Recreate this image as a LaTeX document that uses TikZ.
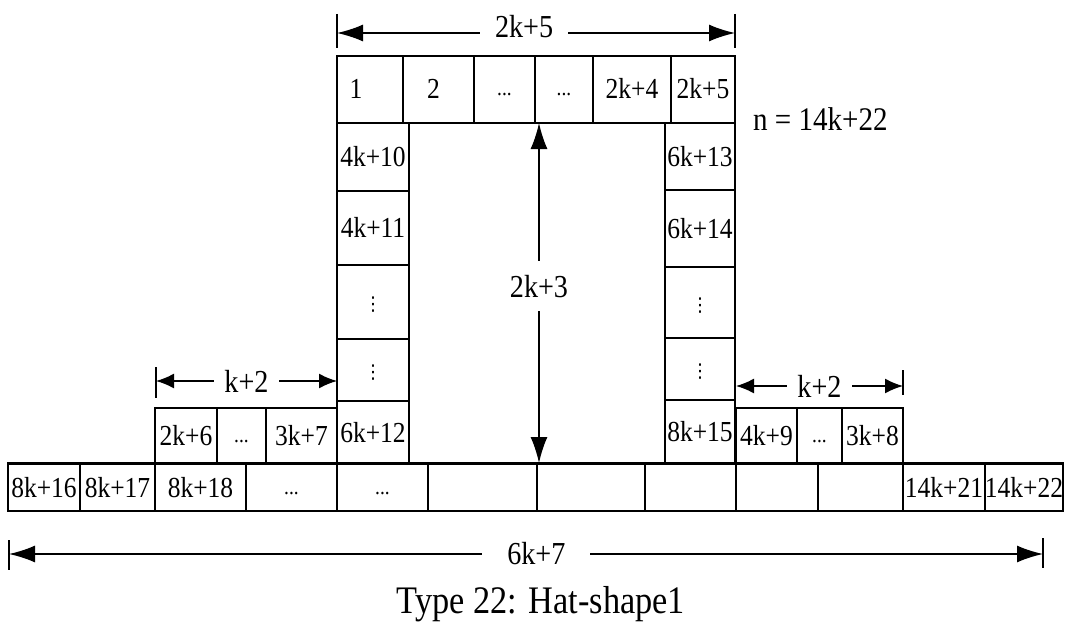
\documentclass[tikz,border=0pt]{standalone}
\usepackage{fontspec}
\setmainfont{Liberation Serif}
\newfontfamily\condfont[FakeStretch=0.88]{Liberation Serif}
\newfontfamily\symfont{DejaVu Sans}
\usetikzlibrary{arrows.meta}
\newcommand{\hcell}[6]{\node[cell, minimum width={#4-#2}, minimum height={#5-#3}] (#1) at ({(#2+#4)/2},{(#3+#5)/2}) {#6};}
\newcommand{\hdots}{{\fontsize{22}{22}\selectfont\raisebox{3pt}{...}}}
\newcommand{\vdts}{{\symfont\fontsize{19}{19}\selectfont\raisebox{1pt}{⋮}}}
\begin{document}
\begin{tikzpicture}[x=1pt,y=-1pt,
  cell/.style={draw, line width=1.3pt, inner sep=0pt, text height=19pt, text depth=0pt, font=\condfont\fontsize{29}{29}\selectfont},
  bigdim/.style={line width=1.6pt, {Latex[length=26pt,width=17pt]}-{Latex[length=26pt,width=17pt]}},
  smalldim/.style={line width=1.6pt, {Latex[length=18pt,width=15pt]}-{Latex[length=18pt,width=15pt]}},
  tick/.style={line width=1.4pt},
  dimlab/.style={fill=white, inner ysep=2pt, font=\condfont\fontsize{32}{32}\selectfont},
  txt/.style={inner sep=0pt}]
\useasboundingbox (0,0) rectangle (1069,626);
% top row
\hcell{T1}{337}{56}{403}{123}{\hspace*{-28pt}1}
\hcell{T2}{403}{56}{474}{123}{\hspace*{-10pt}2}
\hcell{T3}{474}{56}{535}{123}{\hdots}
\hcell{T4}{535}{56}{593}{123}{\hdots}
\hcell{T5}{593}{56}{671}{123}{2k+4}
\hcell{T6}{671}{56}{735}{123}{2k+5}
% left column
\hcell{L1}{337}{123}{409}{191}{4k+10}
\hcell{L2}{337}{191}{409}{265}{4k+11}
\hcell{L3}{337}{265}{409}{339}{\vdts}
\hcell{L4}{337}{339}{409}{401}{\vdts}
\hcell{L5}{337}{401}{409}{464}{6k+12}
% right column
\hcell{R1}{665}{123}{735}{190}{6k+13}
\hcell{R2}{665}{190}{735}{267}{6k+14}
\hcell{R3}{665}{267}{735}{338}{\vdts}
\hcell{R4}{665}{338}{735}{400}{\vdts}
\hcell{R5}{665}{400}{735}{464}{8k+15}
% left small row
\hcell{S1}{155}{408}{217}{464}{2k+6}
\hcell{S2}{217}{408}{266}{464}{\hdots}
\hcell{S3}{266}{408}{337}{464}{3k+7}
% right small row
\hcell{Q1}{736}{408}{797}{464}{4k+9}
\hcell{Q2}{797}{408}{842}{464}{\hdots}
\hcell{Q3}{842}{408}{903}{464}{3k+8}
% bottom row
\hcell{B1}{8}{464}{80}{511}{8k+16}
\hcell{B2}{80}{464}{155}{511}{8k+17}
\hcell{B3}{155}{464}{246}{511}{8k+18}
\hcell{B4}{246}{464}{337}{511}{\hdots}
\hcell{B5}{337}{464}{428}{511}{\hdots}
\hcell{B6}{428}{464}{537}{511}{}
\hcell{B7}{537}{464}{645}{511}{}
\hcell{B8}{645}{464}{736}{511}{}
\hcell{B9}{736}{464}{818}{511}{}
\hcell{B10}{818}{464}{903}{511}{}
\hcell{B11}{903}{464}{985}{511}{14k+21}
\hcell{B12}{985}{464}{1063}{511}{14k+22}
\draw[line width=2pt] (B1.north west) -- (B12.north east);
% top dimension
\coordinate (ta1) at (337,14); \coordinate (ta2) at (337,48);
\coordinate (tb1) at (735,14); \coordinate (tb2) at (735,48);
\coordinate (ta) at (337,33); \coordinate (tb) at (735,33);
\draw[tick] (ta1) -- (ta2); \draw[tick] (tb1) -- (tb2);
\draw[bigdim] (ta) -- node[dimlab, pos=0.47, inner xsep=15pt, yshift=6pt] {2k+5} (tb);
% vertical dimension
\coordinate (va) at (539,123); \coordinate (vb) at (539,463);
\draw[bigdim] (va) -- node[dimlab, pos=0.48, inner xsep=4pt, inner ysep=14pt] {2k+3} (vb);
% left k+2
\coordinate (la1) at (156,367); \coordinate (la2) at (156,398);
\coordinate (la) at (156,381); \coordinate (lb) at (337,381);
\draw[tick] (la1) -- (la2);
\draw[smalldim] (la) -- node[dimlab, inner xsep=10pt] {k+2} (lb);
% right k+2
\coordinate (ra1) at (903,370); \coordinate (ra2) at (903,395);
\coordinate (ra) at (736,386); \coordinate (rb) at (903,386);
\draw[tick] (ra1) -- (ra2);
\draw[smalldim] (ra) -- node[dimlab, inner xsep=10pt] {k+2} (rb);
% bottom dimension
\coordinate (ba1) at (9,540); \coordinate (ba2) at (9,570);
\coordinate (bb1) at (1043,538); \coordinate (bb2) at (1043,568);
\coordinate (ba) at (9,554); \coordinate (bb) at (1043,554);
\draw[tick] (ba1) -- (ba2); \draw[tick] (bb1) -- (bb2);
\draw[bigdim] (ba) -- node[dimlab, pos=0.51, inner xsep=25pt] {6k+7} (bb);
% texts
\node[txt, anchor=base west, font=\condfont\fontsize{33}{33}\selectfont] (nlab) at (753,130) {n = 14k+22};
\node[txt, anchor=base, font=\condfont\fontsize{39}{39}\selectfont] (cap) at (541,613) {Type 22: Hat-shape1};
\end{tikzpicture}
\end{document}
